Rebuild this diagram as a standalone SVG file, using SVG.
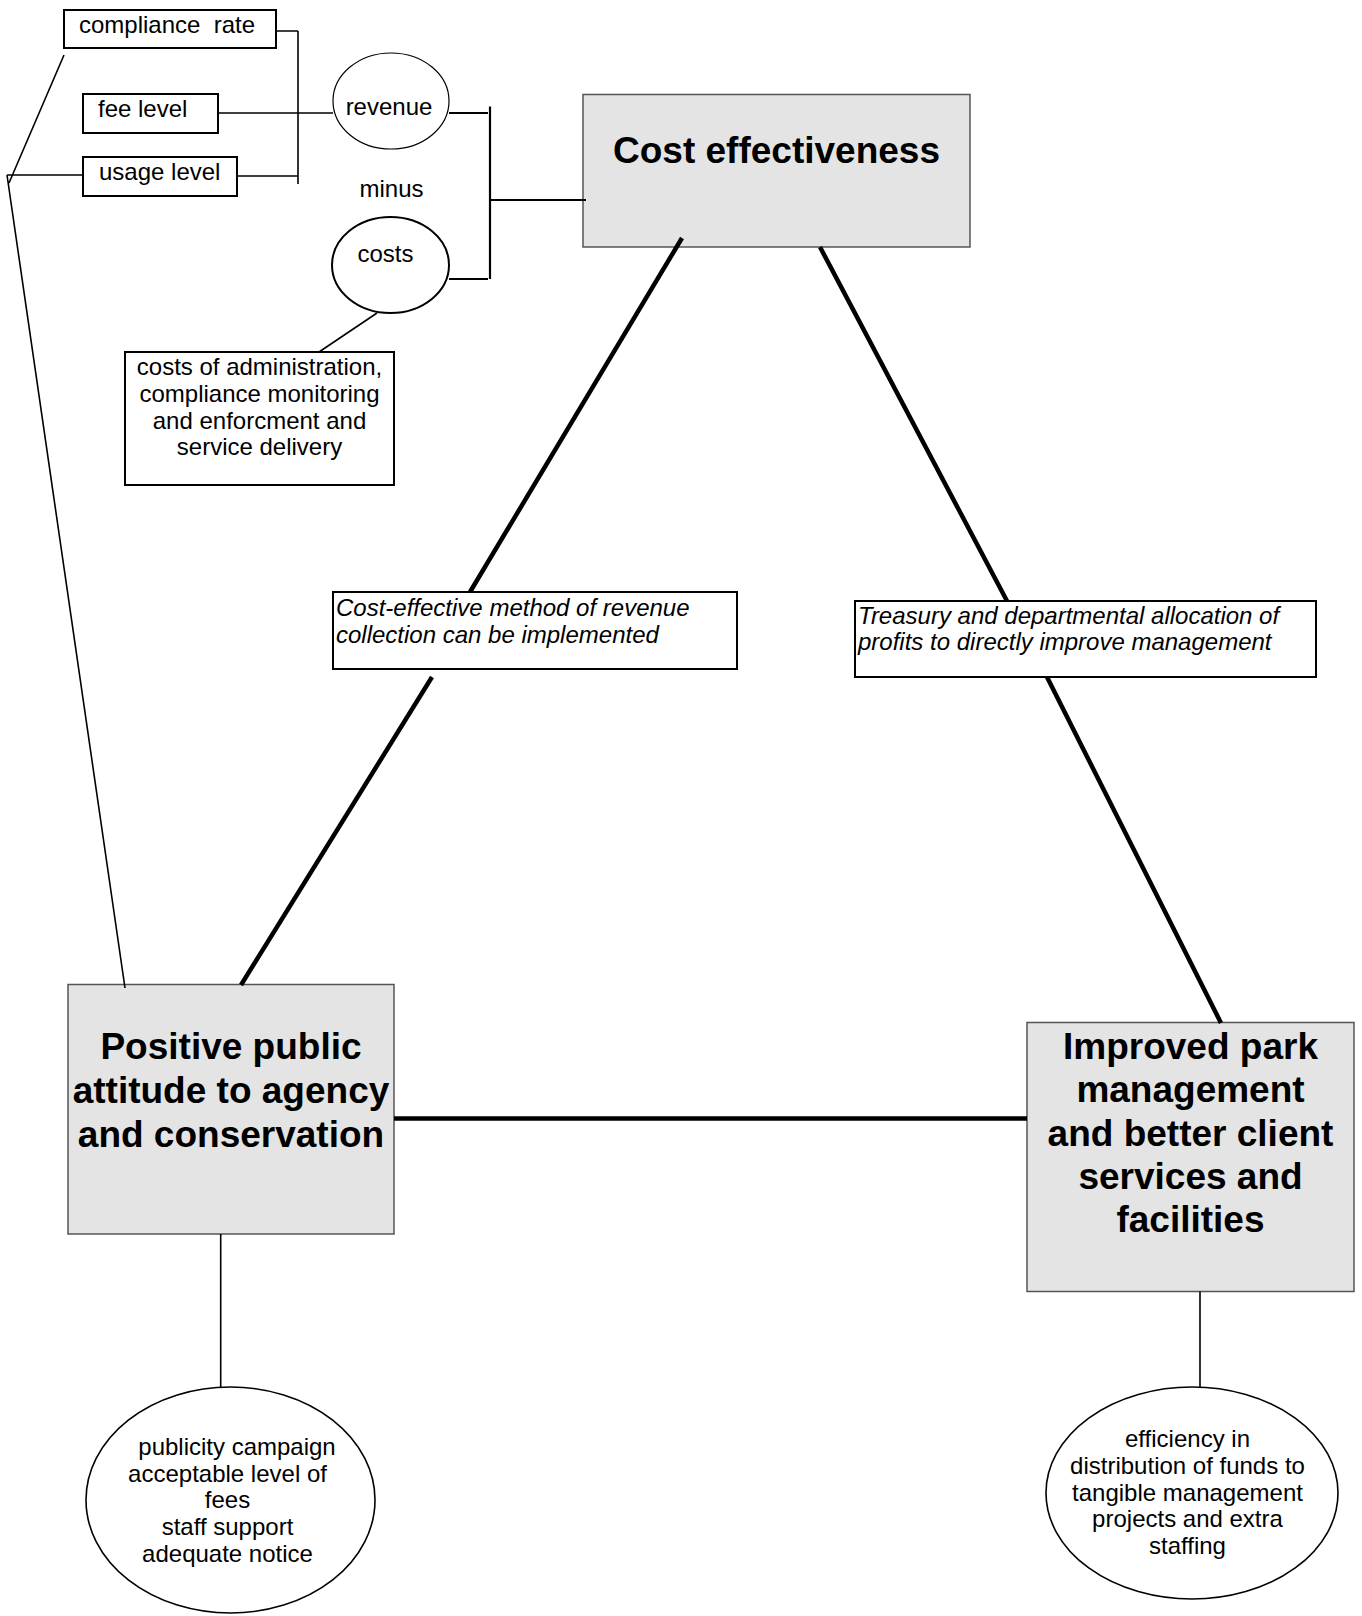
<svg xmlns="http://www.w3.org/2000/svg" width="1362" height="1616" viewBox="0 0 1362 1616">
<style>
text{font-family:"Liberation Sans",Arial,sans-serif;fill:#000}
.t{font-size:24px}
.c{text-anchor:middle}
.b{font-size:37px;font-weight:bold;text-anchor:middle}
.i{font-size:24px;font-style:italic}
.main{fill:#e4e4e4;stroke:#555;stroke-width:1.5}
.box{fill:#fff;stroke:#000;stroke-width:2}
.ell{fill:#fff;stroke:#000;stroke-width:1.6}
.thin{stroke:#000;stroke-width:1.6;fill:none}
.mid{stroke:#000;stroke-width:2.2;fill:none}
.thick{stroke:#000;stroke-width:4.5;fill:none}
</style>
<rect width="1362" height="1616" fill="#fff"/>
<g id="node-compliance-rate">
<rect class="box" x="64" y="10" width="212" height="38"/>
<text class="t" x="79" y="33" xml:space="preserve">compliance  rate</text>
</g>
<g id="node-fee-level">
<rect class="box" x="83" y="94" width="135" height="39"/>
<text class="t" x="98" y="117">fee level</text>
</g>
<g id="node-usage-level">
<rect class="box" x="83" y="157" width="154" height="39"/>
<text class="t" x="99" y="180">usage level</text>
</g>
<g id="node-revenue">
<ellipse cx="391" cy="101" rx="58" ry="48" fill="#fff" stroke="#000" stroke-width="1.2"/>
<text class="t c" x="389" y="115">revenue</text>
</g>
<g id="node-minus">
<text class="t c" x="391.5" y="197">minus</text>
</g>
<g id="node-costs">
<ellipse cx="390.5" cy="265" rx="58.5" ry="48" fill="#fff" stroke="#000" stroke-width="2"/>
<text class="t c" x="385.5" y="262">costs</text>
</g>
<g id="node-costs-detail">
<rect class="box" x="125" y="352" width="269" height="133"/>
<text class="t c" x="259.5" y="375">costs of administration,</text>
<text class="t c" x="259.5" y="401.8">compliance monitoring</text>
<text class="t c" x="259.5" y="428.6">and enforcment and</text>
<text class="t c" x="259.5" y="455.4">service delivery</text>
</g>
<g id="node-cost-effectiveness">
<rect class="main" x="583" y="94.5" width="387" height="152.5"/>
<text class="b" x="776.5" y="163">Cost effectiveness</text>
</g>
<g id="node-label-left">
<rect class="box" x="333" y="592" width="404" height="77"/>
<text class="i" x="336" y="616">Cost-effective method of revenue</text>
<text class="i" x="336" y="642.5">collection can be implemented</text>
</g>
<g id="node-label-right">
<rect class="box" x="855" y="601" width="461" height="76"/>
<text class="i" x="858" y="623.5">Treasury and departmental allocation of</text>
<text class="i" x="858" y="650">profits to directly improve management</text>
</g>
<g id="node-positive-attitude">
<rect class="main" x="68" y="984.5" width="326" height="249.5"/>
<text class="b" x="231" y="1059">Positive public</text>
<text class="b" x="231" y="1103">attitude to agency</text>
<text class="b" x="231" y="1147">and conservation</text>
</g>
<g id="node-improved-management">
<rect class="main" x="1027" y="1022.5" width="327" height="269"/>
<text class="b" x="1190.5" y="1059">Improved park</text>
<text class="b" x="1190.5" y="1102">management</text>
<text class="b" x="1190.5" y="1145.5">and better client</text>
<text class="b" x="1190.5" y="1189">services and</text>
<text class="b" x="1190.5" y="1232">facilities</text>
</g>
<g id="node-publicity">
<ellipse class="ell" cx="230.5" cy="1500" rx="144.5" ry="113"/>
<text class="t c" x="237" y="1455">publicity campaign</text>
<text class="t c" x="227.5" y="1481.7">acceptable level of</text>
<text class="t c" x="227.5" y="1508.4">fees</text>
<text class="t c" x="227.5" y="1535">staff support</text>
<text class="t c" x="227.5" y="1561.7">adequate notice</text>
</g>
<g id="node-efficiency">
<ellipse class="ell" cx="1192" cy="1493" rx="146" ry="106"/>
<text class="t c" x="1187.5" y="1447">efficiency in</text>
<text class="t c" x="1187.5" y="1474">distribution of funds to</text>
<text class="t c" x="1187.5" y="1500.7">tangible management</text>
<text class="t c" x="1187.5" y="1527">projects and extra</text>
<text class="t c" x="1187.5" y="1553.5">staffing</text>
</g>
<g id="connectors">
<path class="thin" d="M276 31H298M298 31V184M218 113H333M237 176H298"/>
<path class="thin" d="M7 175H83M64 55L9 183M7 175L125 988"/>
<path class="mid" d="M449 113H488M490 106.5V279M449 279H488M490 200H586"/>
<path class="thin" d="M377 313L319 352"/>
<path class="thick" d="M682 238L470 592M432 677L241 985"/>
<path class="thick" d="M820 247L1007 601M1047 677L1221 1023"/>
<path class="thick" d="M394 1118.5H1027"/>
<path class="thin" d="M220.7 1234V1387M1200 1291.5V1387"/>
</g>
</svg>
